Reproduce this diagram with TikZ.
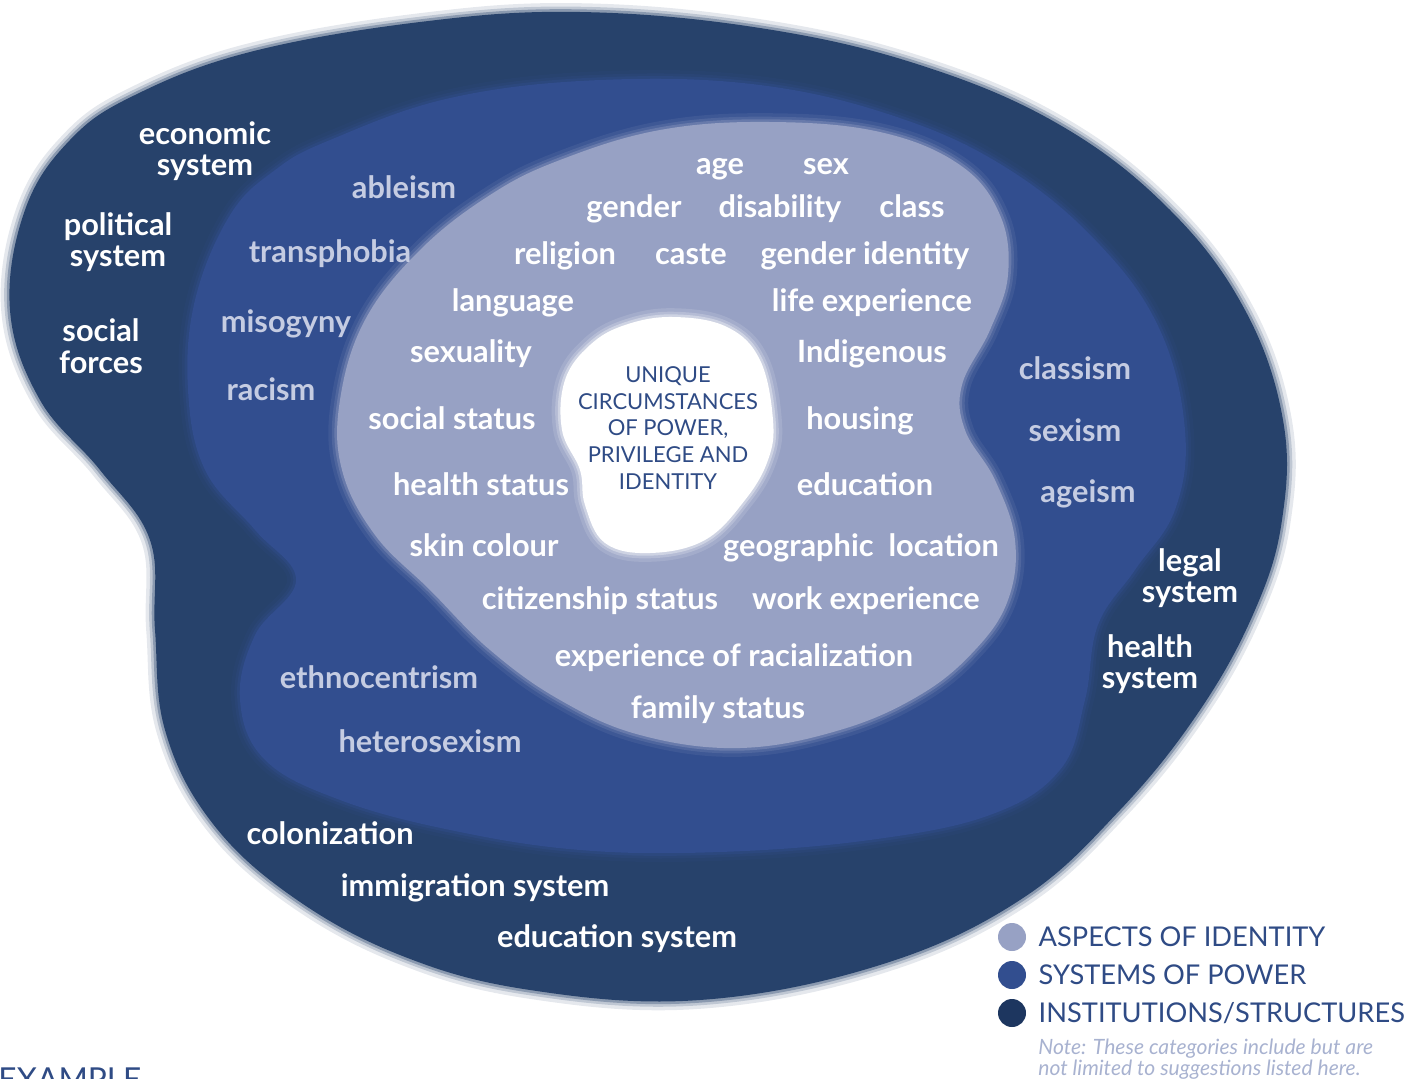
\documentclass[tikz,border=0pt]{standalone}
\usepackage{fontspec}
\setmainfont{Lato}
\usepackage{tikz}
\usetikzlibrary{positioning}

\definecolor{instcol}{HTML}{27426B}
\definecolor{powcol}{HTML}{324E8F}
\definecolor{idcol}{HTML}{97A1C4}
\definecolor{powtext}{HTML}{C5CCE2}
\definecolor{legtextcol}{HTML}{2F4B85}
\definecolor{notecol}{HTML}{A8B2D0}
\definecolor{darkdot}{HTML}{1D365F}

\begin{document}
\begin{tikzpicture}[x=0.02cm,y=-0.02cm,
    feather/.style={postaction={draw=#1,line width=10pt,opacity=.12},
                    postaction={draw=#1,line width=6pt,opacity=.2},
                    postaction={draw=#1,line width=3pt,opacity=.35}},
    blob/.style={smooth cycle,tension=.65},
    inst/.style={text=white,font=\fontsize{17.5}{18}\selectfont\bfseries,align=center,inner sep=0},
    pow/.style={text=powtext,font=\fontsize{17.5}{18}\selectfont\bfseries,inner sep=0,
                text height=12.6pt,text depth=3.6pt,yshift=-2pt},
    aspect/.style={text=white,font=\fontsize{17.5}{18}\selectfont\bfseries,inner sep=0,
                   text height=12.6pt,text depth=3.6pt,yshift=-2pt},
    legdot/.style={circle,minimum size=28*0.02cm,inner sep=0},
    legtext/.style={text=legtextcol,font=\fontsize{15.5}{18}\selectfont,inner sep=0,anchor=west}]
  \useasboundingbox (0,0) rectangle (1414,1079);
  \clip (0,0) rectangle (1414,1079);

  % institutions / structures
  \fill[instcol,feather=instcol] plot[blob] coordinates {
    (135,95) (250,52) (420,22) (580,12) (760,28) (920,65) (1060,125) (1170,210)
    (1245,310) (1283,420) (1282,520) (1255,610) (1200,710) (1120,810) (1020,900)
    (880,965) (700,1000) (530,990) (400,955) (290,895) (210,820) (165,730)
    (155,630) (150,540) (100,470) (40,400) (10,310) (25,210) (70,140)};
  % systems of power
  \fill[powcol,feather=powcol] plot[blob] coordinates {
    (330,140) (450,98) (600,80) (760,85) (900,118) (1010,170) (1100,245)
    (1160,330) (1185,430) (1175,510) (1135,570) (1098,625) (1085,700) (1060,770)
    (990,815) (870,840) (720,852) (580,850) (450,830) (340,800) (265,760)
    (240,700) (255,635) (296,580) (255,530) (205,470) (188,390) (195,300)
    (230,215) (275,170)};
  % aspects of identity
  \fill[idcol,feather=idcol] plot[blob] coordinates {
    (560,160) (660,130) (770,122) (880,132) (960,165) (1000,215) (1008,275)
    (990,330) (962,385) (965,430) (995,480) (1015,540) (1008,600) (975,650)
    (920,695) (840,730) (740,748) (640,735) (560,700) (490,650) (430,590)
    (375,535) (342,470) (340,400) (365,320) (420,250) (490,195)};
  % centre
  \fill[white,feather=white] plot[blob] coordinates {
    (673,317) (727,327) (760,360) (773,420) (768,460) (745,500) (705,540)
    (650,553) (605,543) (585,505) (580,470) (562,430) (565,380) (590,345) (625,325)};

  \node[align=center,text=legtextcol,inner sep=0,
        font=\fontsize{12.5}{15.3}\selectfont] (centre) at (668,428)
    {UNIQUE\\CIRCUMSTANCES\\OF POWER,\\PRIVILEGE AND\\IDENTITY};

  % outer ring
  \node[inst] (econ) at (205,151) {economic\\system};
  \node[inst] (polit) at (118,242) {political\\system};
  \node[inst] (socforce) at (101,346) {social\\forces};
  \node[inst] (legal) at (1190,578) {legal\\system};
  \node[inst] (healthsys) at (1150,664) {health\\system};
  \node[inst] (colon) at (330,833) {colonization};
  \node[inst] (immig) at (475,888) {immigration system};
  \node[inst] (edusys) at (617,939) {education system};

  % middle ring
  \node[pow] (ableism) at (404,187) {ableism};
  \node[pow] (transph) at (330,251) {transphobia};
  \node[pow] (misog) at (286,321) {misogyny};
  \node[pow] (racism) at (271,389) {racism};
  \node[pow] (classism) at (1075,368) {classism};
  \node[pow] (sexism) at (1075,430) {sexism};
  \node[pow] (ageism) at (1088,491) {ageism};
  \node[pow] (ethno) at (379,677) {ethnocentrism};
  \node[pow] (hetero) at (430,741) {heterosexism};

  % inner
  \node[aspect] (age) at (720,163) {age};
  \node[aspect] (sex) at (826,163) {sex};
  \node[aspect] (gender) at (634,206) {gender};
  \node[aspect] (disab) at (780,206) {disability};
  \node[aspect] (class) at (912,206) {class};
  \node[aspect] (relig) at (565,253) {religion};
  \node[aspect] (caste) at (691,253) {caste};
  \node[aspect] (gendid) at (865,253) {gender identity};
  \node[aspect] (lang) at (513,300) {language};
  \node[aspect] (lifeexp) at (872,300) {life experience};
  \node[aspect] (sexual) at (471,351) {sexuality};
  \node[aspect] (indig) at (872,351) {Indigenous};
  \node[aspect] (socstat) at (452,418) {social status};
  \node[aspect] (housing) at (860,418) {housing};
  \node[aspect] (healthst) at (481,484) {health status};
  \node[aspect] (educ) at (865,484) {education};
  \node[aspect] (skin) at (484,545) {skin colour};
  \node[aspect] (geoloc) at (861,545) {geographic\ \ location};
  \node[aspect] (citiz) at (600,598) {citizenship status};
  \node[aspect] (workexp) at (866,598) {work experience};
  \node[aspect] (racial) at (734,655) {experience of racialization};
  \node[aspect] (family) at (718,707) {family status};

  % legend
  \node[legdot,fill=idcol] (dot1) at (1012,937) {};
  \node[legdot,fill=powcol] (dot2) at (1012,975) {};
  \node[legdot,fill=darkdot] (dot3) at (1012,1013) {};
  \node[legtext,right=0.24cm of dot1] (leg1) {ASPECTS OF IDENTITY};
  \node[legtext,right=0.24cm of dot2] (leg2) {SYSTEMS OF POWER};
  \node[legtext,right=0.24cm of dot3] (leg3) {INSTITUTIONS/STRUCTURES};
  \node[anchor=north west,align=left,inner sep=0,text=notecol,
        font=\fontsize{12}{12}\selectfont\itshape] (note) at (1038,1039)
    {Note: These categories include but are\\not limited to suggestions listed here.};

  \node[anchor=base west,inner sep=0,text=legtextcol,
        font=\fontsize{18}{18}\selectfont] (example) at (-2,1090) {EXAMPLE};
\end{tikzpicture}
\end{document}
